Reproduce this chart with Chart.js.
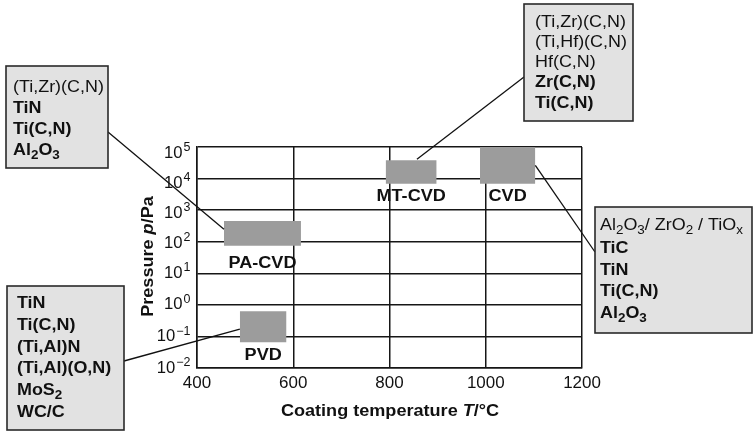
<!DOCTYPE html>
<html>
<head>
<meta charset="utf-8">
<script src="https://cdn.jsdelivr.net/npm/chart.js@4.4.1/dist/chart.umd.min.js"></script>
<style>
  html, body { margin: 0; padding: 0; background: #ffffff; }
  #wrap { width: 756px; height: 438px; position: relative; }
</style>
</head>
<body>
<div id="wrap"><canvas id="c" width="756" height="438"></canvas></div>
<script>
// ---------- data ----------
const X_TICKS = [400, 600, 800, 1000, 1200];
const Y_EXPONENTS = [-2, -1, 0, 1, 2, 3, 4, 5];

const PROCESSES = ['PA-CVD', 'PVD', 'MT-CVD', 'CVD'];
const TEMP_MIN = [456, 489, 792, 988];
const TEMP_MAX = [616, 586, 898, 1103];
const P_MIN = [74, 0.065, 6900, 6900];
const P_MAX = [450, 0.63, 38000, 100000];

// leader-line anchor points on each process box (data coordinates)
const ANCHOR_T = [456, 489, 857, 1103];
const ANCHOR_P = [250, 0.17, 41000, 26000];

// callout texts (one per process, same order)
const CALLOUT_TEXT = [
  [[{t:'(Ti,Zr)(C,N)'}],
   [{t:'TiN', b:1}],
   [{t:'Ti(C,N)', b:1}],
   [{t:'Al', b:1}, {t:'2', b:1, sub:1}, {t:'O', b:1}, {t:'3', b:1, sub:1}]],
  [[{t:'TiN', b:1}],
   [{t:'Ti(C,N)', b:1}],
   [{t:'(Ti,Al)N', b:1}],
   [{t:'(Ti,Al)(O,N)', b:1}],
   [{t:'MoS', b:1}, {t:'2', b:1, sub:1}],
   [{t:'WC/C', b:1}]],
  [[{t:'(Ti,Zr)(C,N)'}],
   [{t:'(Ti,Hf)(C,N)'}],
   [{t:'Hf(C,N)'}],
   [{t:'Zr(C,N)', b:1}],
   [{t:'Ti(C,N)', b:1}]],
  [[{t:'Al'}, {t:'2', sub:1}, {t:'O'}, {t:'3', sub:1}, {t:'/ ZrO'}, {t:'2', sub:1}, {t:' / TiO'}, {t:'x', sub:1}],
   [{t:'TiC', b:1}],
   [{t:'TiN', b:1}],
   [{t:'Ti(C,N)', b:1}],
   [{t:'Al', b:1}, {t:'2', b:1, sub:1}, {t:'O', b:1}, {t:'3', b:1, sub:1}]]
];

// ---------- layout / style ----------
const FAMILY = '"Liberation Sans", Arial, Helvetica, sans-serif';
const GRID = '#161616';
const BOX_GRAY = '#9c9c9c';
const CALLOUT_BG = '#e2e2e2';
const CALLOUT_BORDER = '#2a2a2a';
const SX = 1.12;

const CALLOUT_LAYOUT = [
  {x:6,   y:66,  w:102, h:102, tx:13,  base:[92.3,113.3,134,154.5], lead:[108,132]},
  {x:7,   y:286, w:117, h:144, tx:17,  base:[308.3,330,351.7,372.7,395,416.7], lead:[124,361]},
  {x:524, y:4,   w:109, h:117, tx:535, base:[26.7,46.7,66.5,87.3,108], lead:[524,77]},
  {x:595, y:207, w:157, h:126, tx:600, base:[230,252.5,274.5,296,317.5], lead:[595,252]}
];
const LABEL_OFFSET = [22, 17.5, 17.5, 17.5];

function fontFor(seg, size) {
  let s = size;
  if (seg.sub || seg.sup) s = size * 0.75;
  return (seg.i ? 'italic ' : '') + (seg.b ? 'bold ' : '') + s + 'px ' + FAMILY;
}
function drawRich(ctx, x, y, segs, size, sx, align) {
  let total = 0;
  const widths = segs.map(sg => { ctx.font = fontFor(sg, size); const w = ctx.measureText(sg.t).width + (sg.gap || 0); total += w; return w; });
  let start = x;
  if (align === 'center') start = x - total * sx / 2;
  else if (align === 'right') start = x - total * sx;
  ctx.save();
  ctx.translate(start, y);
  ctx.scale(sx, 1);
  ctx.textAlign = 'left';
  ctx.textBaseline = 'alphabetic';
  let cx = 0;
  segs.forEach((sg, k) => {
    ctx.font = fontFor(sg, size);
    let dy = 0;
    if (sg.sub) dy = size * 0.25;
    if (sg.sup) dy = -size * 0.4;
    ctx.fillText(sg.t, cx + (sg.gap || 0), dy);
    cx += widths[k];
  });
  ctx.restore();
}

const annotPlugin = {
  id: 'annot',
  afterDraw(chart) {
    const ctx = chart.ctx;
    const xs = chart.scales.x, ys = chart.scales.y;
    ctx.save();
    ctx.fillStyle = '#111';

    // x tick labels
    xs.ticks.forEach(tk => {
      drawRich(ctx, xs.getPixelForValue(tk.value), 388.3, [{t: String(tk.value)}], 16, 1.06, 'center');
    });
    // y tick labels 10^n
    ys.ticks.forEach(tk => {
      const e = Math.round(Math.log10(tk.value));
      const py = ys.getPixelForValue(tk.value);
      const base = py + 4.5 + Math.max(0, e - 1) * 1.5;
      const expTxt = e < 0 ? '\u2212' + Math.abs(e) : String(e);
      drawRich(ctx, 190.5, base, [{t: '10'}, {t: expTxt, sup: 1, gap: 1}], 16, 1.04, 'right');
    });

    // axis titles
    drawRich(ctx, 390, 415.7, [{t:'Coating temperature ', b:1}, {t:'T', b:1, i:1}, {t:'/\u00B0C', b:1}], 16, 1.13, 'center');
    ctx.save();
    ctx.translate(153, 256.5);
    ctx.rotate(-Math.PI / 2);
    drawRich(ctx, 0, 0, [{t:'Pressure ', b:1}, {t:'p', b:1, i:1}, {t:'/Pa', b:1}], 16, 1.13, 'center');
    ctx.restore();

    // process labels
    PROCESSES.forEach((name, i) => {
      const cx = (xs.getPixelForValue(TEMP_MIN[i]) + xs.getPixelForValue(TEMP_MAX[i])) / 2;
      const by = ys.getPixelForValue(P_MIN[i]) + LABEL_OFFSET[i];
      drawRich(ctx, cx, by, [{t: name, b:1}], 16, 1.13, 'center');
    });

    // leader lines
    ctx.strokeStyle = '#111';
    ctx.lineWidth = 1.3;
    CALLOUT_LAYOUT.forEach((L, i) => {
      ctx.beginPath();
      ctx.moveTo(L.lead[0], L.lead[1]);
      ctx.lineTo(xs.getPixelForValue(ANCHOR_T[i]), ys.getPixelForValue(ANCHOR_P[i]));
      ctx.stroke();
    });

    // callout boxes
    CALLOUT_LAYOUT.forEach((L, i) => {
      ctx.fillStyle = CALLOUT_BG;
      ctx.fillRect(L.x, L.y, L.w, L.h);
      ctx.strokeStyle = CALLOUT_BORDER;
      ctx.lineWidth = 1.6;
      ctx.strokeRect(L.x, L.y, L.w, L.h);
      ctx.fillStyle = '#111';
      CALLOUT_TEXT[i].forEach((line, k) => {
        drawRich(ctx, L.tx, L.base[k], line, 16, SX, 'left');
      });
    });
    ctx.restore();
  }
};

const datasets = [];
PROCESSES.forEach((name, i) => {
  datasets.push({
    label: name + ' upper',
    data: [{x: TEMP_MIN[i], y: P_MAX[i]}, {x: TEMP_MAX[i], y: P_MAX[i]}],
    borderColor: 'rgba(0,0,0,0)', borderWidth: 0, pointRadius: 0, fill: false
  });
  datasets.push({
    label: name,
    data: [{x: TEMP_MIN[i], y: P_MIN[i]}, {x: TEMP_MAX[i], y: P_MIN[i]}],
    borderColor: 'rgba(0,0,0,0)', borderWidth: 0, pointRadius: 0,
    fill: '-1', backgroundColor: BOX_GRAY
  });
});

new Chart(document.getElementById('c'), {
  type: 'line',
  data: { datasets },
  options: {
    responsive: false,
    animation: false,
    layout: { padding: { left: 197, right: 174, top: 147, bottom: 70 } },
    plugins: { legend: { display: false }, tooltip: { enabled: false } },
    scales: {
      x: {
        type: 'linear', min: 400, max: 1200,
        afterBuildTicks: s => { s.ticks = X_TICKS.map(v => ({value: v})); },
        afterFit: s => { s.height = 0; s.paddingLeft = 0; s.paddingRight = 0; },
        ticks: { display: false },
        grid: { color: GRID, lineWidth: 1.5, drawTicks: false },
        border: { color: GRID, width: 1.5 }
      },
      y: {
        type: 'logarithmic', min: 0.01, max: 100000,
        afterBuildTicks: s => { s.ticks = Y_EXPONENTS.map(e => ({value: Math.pow(10, e)})); },
        afterFit: s => { s.width = 0; s.paddingTop = 0; s.paddingBottom = 0; },
        ticks: { display: false },
        grid: { color: GRID, lineWidth: 1.5, drawTicks: false },
        border: { color: GRID, width: 1.5 }
      }
    }
  },
  plugins: [annotPlugin]
});
</script>
</body>
</html>
